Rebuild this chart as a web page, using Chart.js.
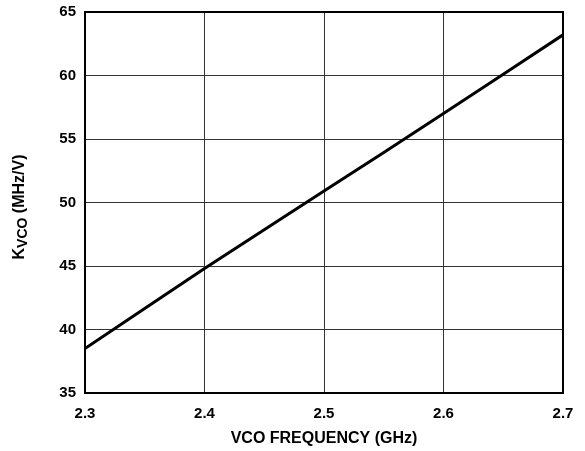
<!DOCTYPE html>
<html>
<head>
<meta charset="utf-8">
<script src="https://cdn.jsdelivr.net/npm/chart.js@4/dist/chart.umd.min.js"></script>
<style>
  html, body { margin: 0; padding: 0; background: #fff; }
  #wrap { width: 585px; height: 451px; }
</style>
</head>
<body>
<div id="wrap"><canvas id="kvco-chart"></canvas></div>
<script>
const freqGHz = [2.3, 2.4, 2.5, 2.6, 2.7];
const kvco = [38.5, 44.8, 50.9, 57.0, 63.2];
const xTicks = [2.3, 2.4, 2.5, 2.6, 2.7];
const yTicks = [35, 40, 45, 50, 55, 60, 65];

const FONT = "'Liberation Sans', Arial, Helvetica, sans-serif";

// frame + axis titles (y title has a subscript)
const framePlugin = {
  id: 'frame',
  afterDraw(chart) {
    const { ctx, chartArea: a } = chart;
    ctx.save();
    ctx.strokeStyle = '#000';
    ctx.lineWidth = 2;
    ctx.strokeRect(a.left, a.top, a.right - a.left, a.bottom - a.top);

    ctx.fillStyle = '#000';
    ctx.font = 'bold 16px ' + FONT;
    ctx.textAlign = 'center';
    ctx.textBaseline = 'middle';
    ctx.fillText('VCO FREQUENCY (GHz)', 324, 439);

    // rotated y title: K + subscript VCO + (MHz/V)
    ctx.translate(20, 207);
    ctx.rotate(-Math.PI / 2);
    const big = 'bold 16px ' + FONT, small = 'bold 14px ' + FONT;
    ctx.font = big; const wK = ctx.measureText('K').width;
    ctx.font = small; const wSub = ctx.measureText('VCO').width;
    ctx.font = big; const wRest = ctx.measureText(' (MHz/V)').width;
    let x = -(wK + wSub + wRest) / 2;
    ctx.textAlign = 'left';
    ctx.font = big; ctx.fillText('K', x, 0); x += wK;
    ctx.font = small; ctx.fillText('VCO', x, 3); x += wSub;
    ctx.font = big; ctx.fillText(' (MHz/V)', x, 0);
    ctx.restore();
  }
};

new Chart(document.getElementById('kvco-chart'), {
  type: 'line',
  data: {
    datasets: [{
      data: freqGHz.map((f, i) => ({ x: f, y: kvco[i] })),
      borderColor: '#000',
      borderWidth: 3,
      pointRadius: 0,
      tension: 0.3,
      fill: false
    }]
  },
  options: {
    responsive: true,
    maintainAspectRatio: false,
    animation: false,
    layout: { padding: { top: 12, right: 22, left: 0, bottom: 0 } },
    plugins: { legend: { display: false }, tooltip: { enabled: false } },
    scales: {
      x: {
        type: 'linear',
        min: 2.3, max: 2.7,
        afterBuildTicks: s => { s.ticks = xTicks.map(v => ({ value: v })); },
        afterFit: s => { s.height = 58; s.paddingLeft = 0; s.paddingRight = 0; },
        ticks: {
          color: '#000',
          padding: 12,
          maxRotation: 0,
          font: { family: FONT, size: 15, weight: 'bold' },
          callback: v => v.toFixed(1)
        },
        grid: { color: '#333', lineWidth: 1, drawTicks: false },
        border: { display: false }
      },
      y: {
        min: 35, max: 65,
        afterBuildTicks: s => { s.ticks = yTicks.map(v => ({ value: v })); },
        afterFit: s => { s.width = 85; s.paddingTop = 0; s.paddingBottom = 0; },
        ticks: {
          color: '#000',
          padding: 9,
          font: { family: FONT, size: 15, weight: 'bold' }
        },
        grid: { color: '#333', lineWidth: 1, drawTicks: false },
        border: { display: false }
      }
    }
  },
  plugins: [framePlugin]
});
</script>
</body>
</html>
